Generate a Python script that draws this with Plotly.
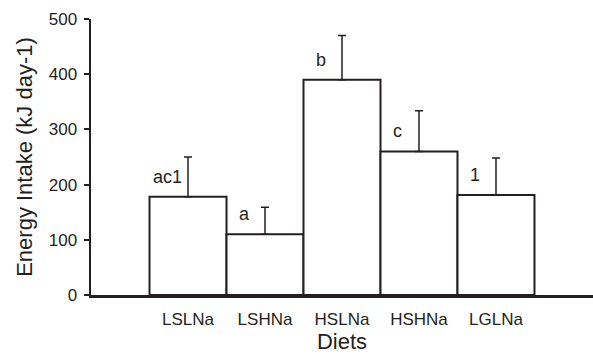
import plotly.graph_objects as go

diets = ["LSLNa", "LSHNa", "HSLNa", "HSHNa", "LGLNa"]
intake = [178, 110, 390, 260, 181]
err_up = [72, 49, 80, 74, 67]
letters = ["ac1", "a", "b", "c", "1"]

INK = "#231f20"

fig = go.Figure()
fig.add_trace(go.Bar(
    x=list(range(len(diets))), y=intake, width=1,
    marker=dict(color="white", line=dict(color=INK, width=2)),
    error_y=dict(type="data", symmetric=False, array=err_up, arrayminus=[0]*len(err_up),
                 color=INK, thickness=1.5, width=4),
    showlegend=False, hoverinfo="skip",
))

for i, (v, t) in enumerate(zip(intake, letters)):
    fig.add_annotation(x=i, y=v, text=t, showarrow=False, xshift=-21, yshift=20,
                       font=dict(size=18, color=INK))

fig.update_layout(
    width=593, height=354,
    margin=dict(l=91, r=0, t=19, b=59, autoexpand=False),
    paper_bgcolor="white", plot_bgcolor="white",
    font=dict(family="Liberation Sans, Arial, sans-serif", color=INK),
    bargap=0,
)
fig.update_xaxes(
    range=[-1.26, 5.26], tickmode="array", tickvals=list(range(len(diets))), ticktext=diets,
    showline=True, linecolor=INK, linewidth=2.5, ticks="outside", ticklen=7,
    tickcolor="rgba(0,0,0,0)", showgrid=False, zeroline=False,
    tickfont=dict(size=17), title=dict(text="Diets", font=dict(size=22), standoff=8),
)
fig.update_yaxes(
    range=[0, 500], tickvals=[0, 100, 200, 300, 400, 500],
    showline=True, linecolor=INK, linewidth=2.5, ticks="outside", ticklen=5, tickwidth=2,
    tickcolor=INK, showgrid=False, zeroline=False, ticklabelstandoff=3,
    tickfont=dict(size=17), title=dict(text="Energy Intake (kJ day-1)", font=dict(size=22), standoff=10),
)

fig.write_html("out.html", config={"displayModeBar": False, "staticPlot": True},
               post_script="document.body.style.margin='0';document.documentElement.style.overflow='hidden';")
